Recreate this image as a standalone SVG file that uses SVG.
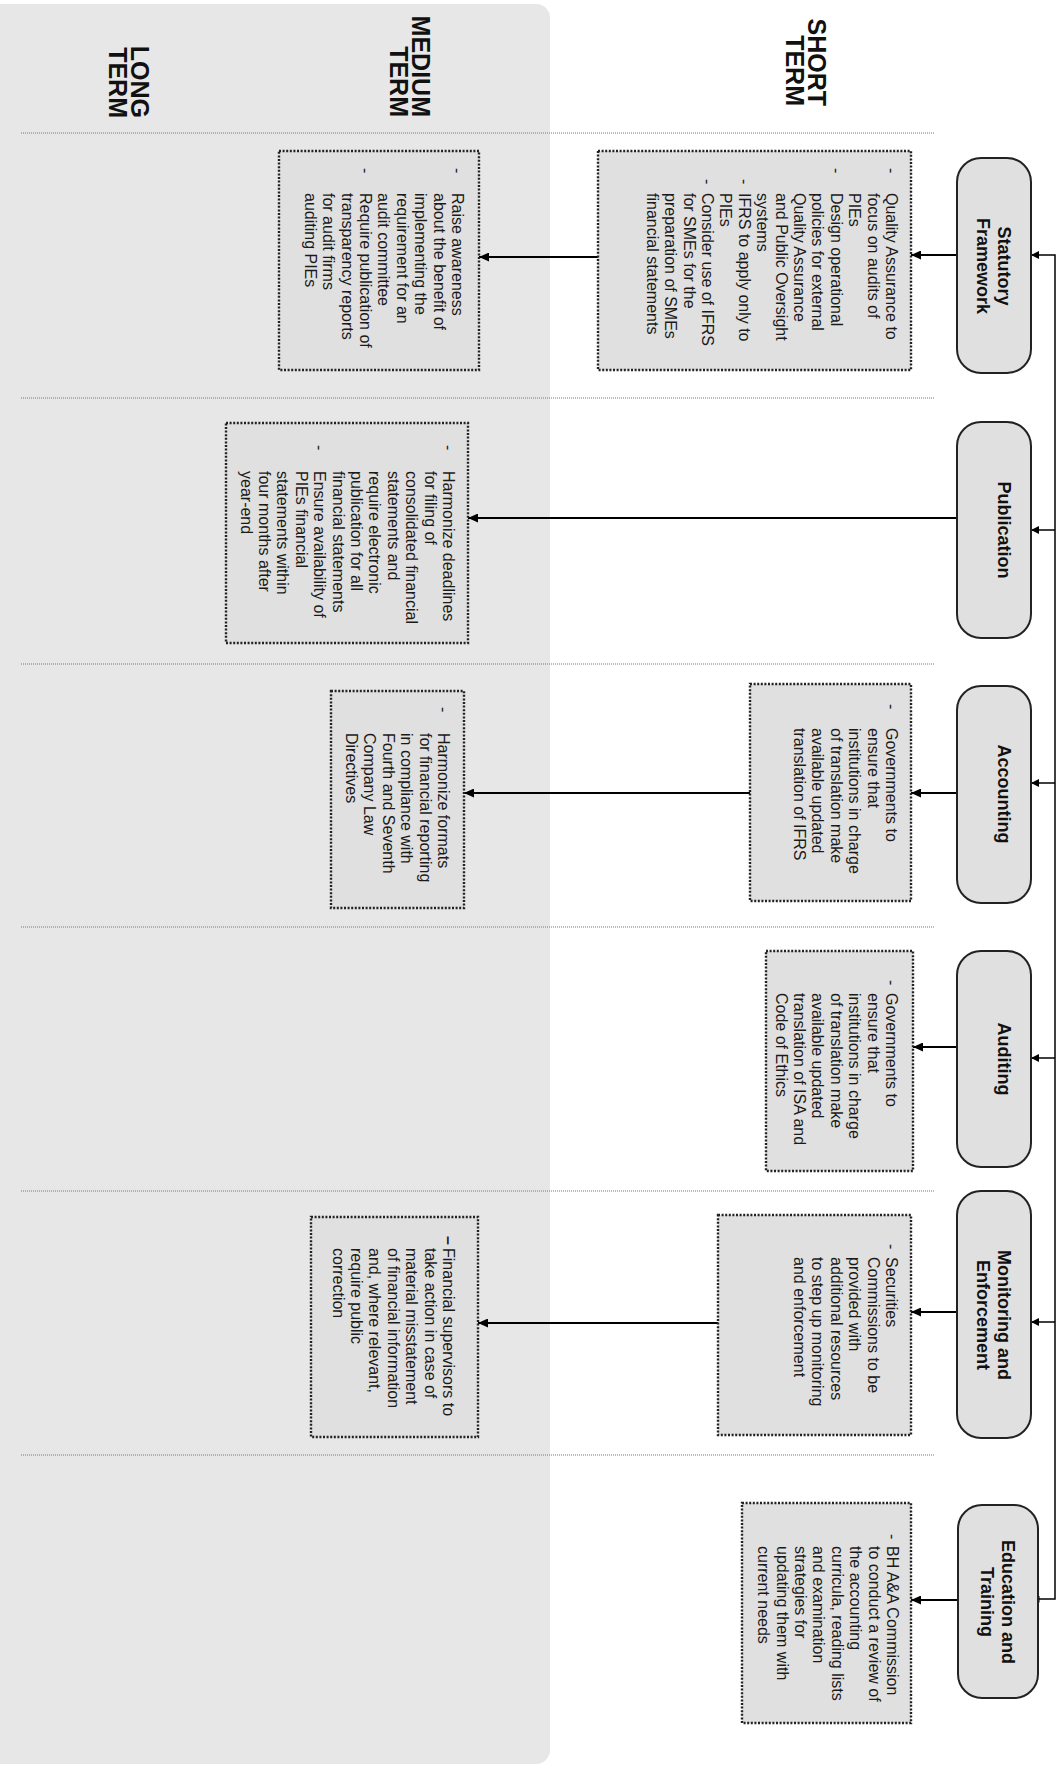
<svg xmlns="http://www.w3.org/2000/svg" width="1057" height="1765" viewBox="0 0 1057 1765">
<style>
.panel{fill:#e7e7e7}
.sep{stroke:#777;stroke-width:1;stroke-dasharray:1 1;fill:none}
.node rect{fill:#e0e0e0;stroke:#222;stroke-width:2}
.nt{font-family:"Liberation Sans",Arial,sans-serif;font-weight:bold;font-size:18px;text-anchor:middle;fill:#111}
.box rect{fill:#e0e0e0;stroke:#222;stroke-width:2.4;stroke-dasharray:2 1.6}
.bt{font-family:"Liberation Sans",Arial,sans-serif;font-size:16px;fill:#1a1a1a}
.hd{font-family:"Liberation Sans",Arial,sans-serif;font-weight:bold;font-size:25px;text-anchor:end;fill:#111}
.conn{stroke:#000;stroke-width:2;fill:none}
.bus{stroke:#000;stroke-width:1.5;fill:none}
</style>
<defs>
<marker id="arr" viewBox="0 0 10 9" refX="10" refY="4.5" markerWidth="10" markerHeight="9" markerUnits="userSpaceOnUse" orient="auto"><path d="M0,0 L10,4.5 L0,9 z" fill="#000"/></marker>
<marker id="arrS" viewBox="0 0 8 8" refX="8" refY="4" markerWidth="8" markerHeight="8" markerUnits="userSpaceOnUse" orient="auto"><path d="M0,0 L8,4 L0,8 z" fill="#000"/></marker>
<marker id="bar" viewBox="0 0 3 7" refX="1.5" refY="3.5" markerWidth="3" markerHeight="7" markerUnits="userSpaceOnUse" orient="auto"><rect x="0" y="0" width="3" height="7" fill="#000"/></marker>
</defs>

<rect class="panel" x="-20" y="4" width="570" height="1760" rx="14"/>

<g id="headers">
<g transform="translate(808,0) rotate(90)"><text class="hd"><tspan x="106" y="0">SHORT</tspan><tspan x="106" y="22">TERM</tspan></text></g>
<g transform="translate(412,0) rotate(90)"><text class="hd"><tspan x="117" y="0">MEDIUM</tspan><tspan x="117" y="22">TERM</tspan></text></g>
<g transform="translate(131,0) rotate(90)"><text class="hd"><tspan x="118" y="0">LONG</tspan><tspan x="118" y="22">TERM</tspan></text></g>
</g>

<g id="separators">
<line class="sep" x1="21" y1="133" x2="935" y2="133"/>
<line class="sep" x1="21" y1="398" x2="935" y2="398"/>
<line class="sep" x1="21" y1="664" x2="935" y2="664"/>
<line class="sep" x1="21" y1="927" x2="935" y2="927"/>
<line class="sep" x1="21" y1="1191" x2="935" y2="1191"/>
<line class="sep" x1="21" y1="1455" x2="935" y2="1455"/>
</g>

<g id="connectors">
<path class="bus" d="M1038,1599 H1055 V255 H1031" marker-start="url(#bar)" marker-end="url(#arrS)"/>
<path class="bus" d="M1055,530 H1031" marker-end="url(#arrS)"/>
<path class="bus" d="M1055,783 H1031" marker-end="url(#arrS)"/>
<path class="bus" d="M1055,1058 H1031" marker-end="url(#arrS)"/>
<path class="bus" d="M1055,1322 H1031" marker-end="url(#arrS)"/>
<path class="conn" d="M957,255 H911" marker-end="url(#arr)"/>
<path class="conn" d="M598,257 H479" marker-end="url(#arr)"/>
<path class="conn" d="M957,518 H468" marker-end="url(#arr)"/>
<path class="conn" d="M957,793 H911" marker-end="url(#arr)"/>
<path class="conn" d="M750,793 H464" marker-end="url(#arr)"/>
<path class="conn" d="M957,1047 H913" marker-end="url(#arr)"/>
<path class="conn" d="M957,1312 H911" marker-end="url(#arr)"/>
<path class="conn" d="M718,1323 H478" marker-end="url(#arr)"/>
<path class="conn" d="M958,1600 H911" marker-end="url(#arr)"/>
</g>

<g id="node-statutory" class="node"><rect x="957" y="158" width="74" height="215" rx="24"/>
<g transform="translate(998,0) rotate(90)"><text class="nt"><tspan x="266" y="0">Statutory</tspan><tspan x="266" y="21">Framework</tspan></text></g></g>
<g id="node-publication" class="node"><rect x="957" y="422" width="74" height="216" rx="24"/>
<g transform="translate(998,0) rotate(90)"><text class="nt" x="530" y="0">Publication</text></g></g>
<g id="node-accounting" class="node"><rect x="957" y="686" width="74" height="217" rx="24"/>
<g transform="translate(998,0) rotate(90)"><text class="nt" x="794" y="0">Accounting</text></g></g>
<g id="node-auditing" class="node"><rect x="957" y="951" width="74" height="216" rx="24"/>
<g transform="translate(998,0) rotate(90)"><text class="nt" x="1059" y="0">Auditing</text></g></g>
<g id="node-monitoring" class="node"><rect x="957" y="1191" width="74" height="247" rx="24"/>
<g transform="translate(998,0) rotate(90)"><text class="nt"><tspan x="1315" y="0">Monitoring and</tspan><tspan x="1315" y="21">Enforcement</tspan></text></g></g>
<g id="node-education" class="node"><rect x="958" y="1505" width="80" height="193" rx="24"/>
<g transform="translate(1002,0) rotate(90)"><text class="nt"><tspan x="1602" y="0">Education and</tspan><tspan x="1602" y="21">Training</tspan></text></g></g>

<g id="box-statutory-short" class="box"><rect x="598" y="151" width="313" height="219"/>
<g transform="translate(886,0) rotate(90)">
<text class="bt" x="168" y="0">-</text><text class="bt" x="168" y="55.2">-</text><text class="bt" x="179" y="147.2">-</text><text class="bt" x="179" y="184">-</text>
<text class="bt"><tspan x="193" y="0">Quality Assurance to</tspan><tspan x="193" dy="18.4">focus on audits of</tspan><tspan x="193" dy="18.4">PIEs</tspan><tspan x="193" dy="18.4">Design operational</tspan><tspan x="193" dy="18.4">policies for external</tspan><tspan x="193" dy="18.4">Quality Assurance</tspan><tspan x="193" dy="18.4">and Public Oversight</tspan><tspan x="193" dy="18.4">systems</tspan><tspan x="193" dy="18.4">IFRS to apply only to</tspan><tspan x="193" dy="18.4">PIEs</tspan><tspan x="193" dy="18.4">Consider use of IFRS</tspan><tspan x="193" dy="18.4">for SMEs for the</tspan><tspan x="193" dy="18.4">preparation of SMEs</tspan><tspan x="193" dy="18.4">financial statements</tspan></text>
</g></g>

<g id="box-statutory-medium" class="box"><rect x="279" y="151" width="200" height="219"/>
<g transform="translate(452,0) rotate(90)">
<text class="bt" x="168" y="0">-</text><text class="bt" x="168" y="92">-</text>
<text class="bt"><tspan x="193" y="0">Raise awareness</tspan><tspan x="193" dy="18.4">about the benefit of</tspan><tspan x="193" dy="18.4">implementing the</tspan><tspan x="193" dy="18.4">requirement for an</tspan><tspan x="193" dy="18.4">audit committee</tspan><tspan x="193" dy="18.4">Require publication of</tspan><tspan x="193" dy="18.4">transparency reports</tspan><tspan x="193" dy="18.4">for audit firms</tspan><tspan x="193" dy="18.4">auditing PIEs</tspan></text>
</g></g>

<g id="box-publication-medium" class="box"><rect x="226" y="423" width="242" height="220"/>
<g transform="translate(443,0) rotate(90)">
<text class="bt" x="445" y="0">-</text><text class="bt" x="445" y="128.8">-</text>
<text class="bt"><tspan x="471" y="0">Harmonize deadlines</tspan><tspan x="471" dy="18.4">for filing of</tspan><tspan x="471" dy="18.4">consolidated financial</tspan><tspan x="471" dy="18.4">statements and</tspan><tspan x="471" dy="18.4">require electronic</tspan><tspan x="471" dy="18.4">publication for all</tspan><tspan x="471" dy="18.4">financial statements</tspan><tspan x="471" dy="18.4">Ensure availability of</tspan><tspan x="471" dy="18.4">PIEs financial</tspan><tspan x="471" dy="18.4">statements within</tspan><tspan x="471" dy="18.4">four months after</tspan><tspan x="471" dy="18.4">year-end</tspan></text>
</g></g>

<g id="box-accounting-short" class="box"><rect x="750" y="684" width="161" height="217"/>
<g transform="translate(886,0) rotate(90)">
<text class="bt" x="704" y="0">-</text>
<text class="bt"><tspan x="728" y="0">Governments to</tspan><tspan x="728" dy="18.4">ensure that</tspan><tspan x="728" dy="18.4">institutions in charge</tspan><tspan x="728" dy="18.4">of translation make</tspan><tspan x="728" dy="18.4">available updated</tspan><tspan x="728" dy="18.4">translation of IFRS</tspan></text>
</g></g>

<g id="box-accounting-medium" class="box"><rect x="331" y="691" width="133" height="217"/>
<g transform="translate(438,0) rotate(90)">
<text class="bt" x="707" y="0">-</text>
<text class="bt"><tspan x="733" y="0">Harmonize formats</tspan><tspan x="733" dy="18.4">for financial reporting</tspan><tspan x="733" dy="18.4">in compliance with</tspan><tspan x="733" dy="18.4">Fourth and Seventh</tspan><tspan x="733" dy="18.4">Company Law</tspan><tspan x="733" dy="18.4">Directives</tspan></text>
</g></g>

<g id="box-auditing-short" class="box"><rect x="766" y="951" width="147" height="220"/>
<g transform="translate(886,0) rotate(90)">
<text class="bt" x="980" y="0">-</text>
<text class="bt"><tspan x="993" y="0">Governments to</tspan><tspan x="993" dy="18.4">ensure that</tspan><tspan x="993" dy="18.4">institutions in charge</tspan><tspan x="993" dy="18.4">of translation make</tspan><tspan x="993" dy="18.4">available updated</tspan><tspan x="993" dy="18.4">translation of ISA and</tspan><tspan x="993" dy="18.4">Code of Ethics</tspan></text>
</g></g>

<g id="box-monitoring-short" class="box"><rect x="718" y="1215" width="193" height="220"/>
<g transform="translate(886,0) rotate(90)">
<text class="bt" x="1244" y="0">-</text>
<text class="bt"><tspan x="1257" y="0">Securities</tspan><tspan x="1257" dy="18.4">Commissions to be</tspan><tspan x="1257" dy="18.4">provided with</tspan><tspan x="1257" dy="18.4">additional resources</tspan><tspan x="1257" dy="18.4">to step up monitoring</tspan><tspan x="1257" dy="18.4">and enforcement</tspan></text>
</g></g>

<g id="box-monitoring-medium" class="box"><rect x="311" y="1217" width="167" height="220"/>
<g transform="translate(443,0) rotate(90)">
<text class="bt" x="1236" y="0" font-weight="bold">–</text>
<text class="bt"><tspan x="1248" y="0">Financial supervisors to</tspan><tspan x="1248" dy="18.4">take action in case of</tspan><tspan x="1248" dy="18.4">material misstatement</tspan><tspan x="1248" dy="18.4">of financial information</tspan><tspan x="1248" dy="18.4">and, where relevant,</tspan><tspan x="1248" dy="18.4">require public</tspan><tspan x="1248" dy="18.4">correction</tspan></text>
</g></g>

<g id="box-education-short" class="box"><rect x="742" y="1503" width="169" height="220"/>
<g transform="translate(887,0) rotate(90)">
<text class="bt" x="1534" y="0">-</text>
<text class="bt"><tspan x="1546" y="0">BH A&amp;A Commission</tspan><tspan x="1546" dy="18.4">to conduct a review of</tspan><tspan x="1546" dy="18.4">the accounting</tspan><tspan x="1546" dy="18.4">curricula, reading lists</tspan><tspan x="1546" dy="18.4">and examination</tspan><tspan x="1546" dy="18.4">strategies for</tspan><tspan x="1546" dy="18.4">updating them with</tspan><tspan x="1546" dy="18.4">current needs</tspan></text>
</g></g>
</svg>
